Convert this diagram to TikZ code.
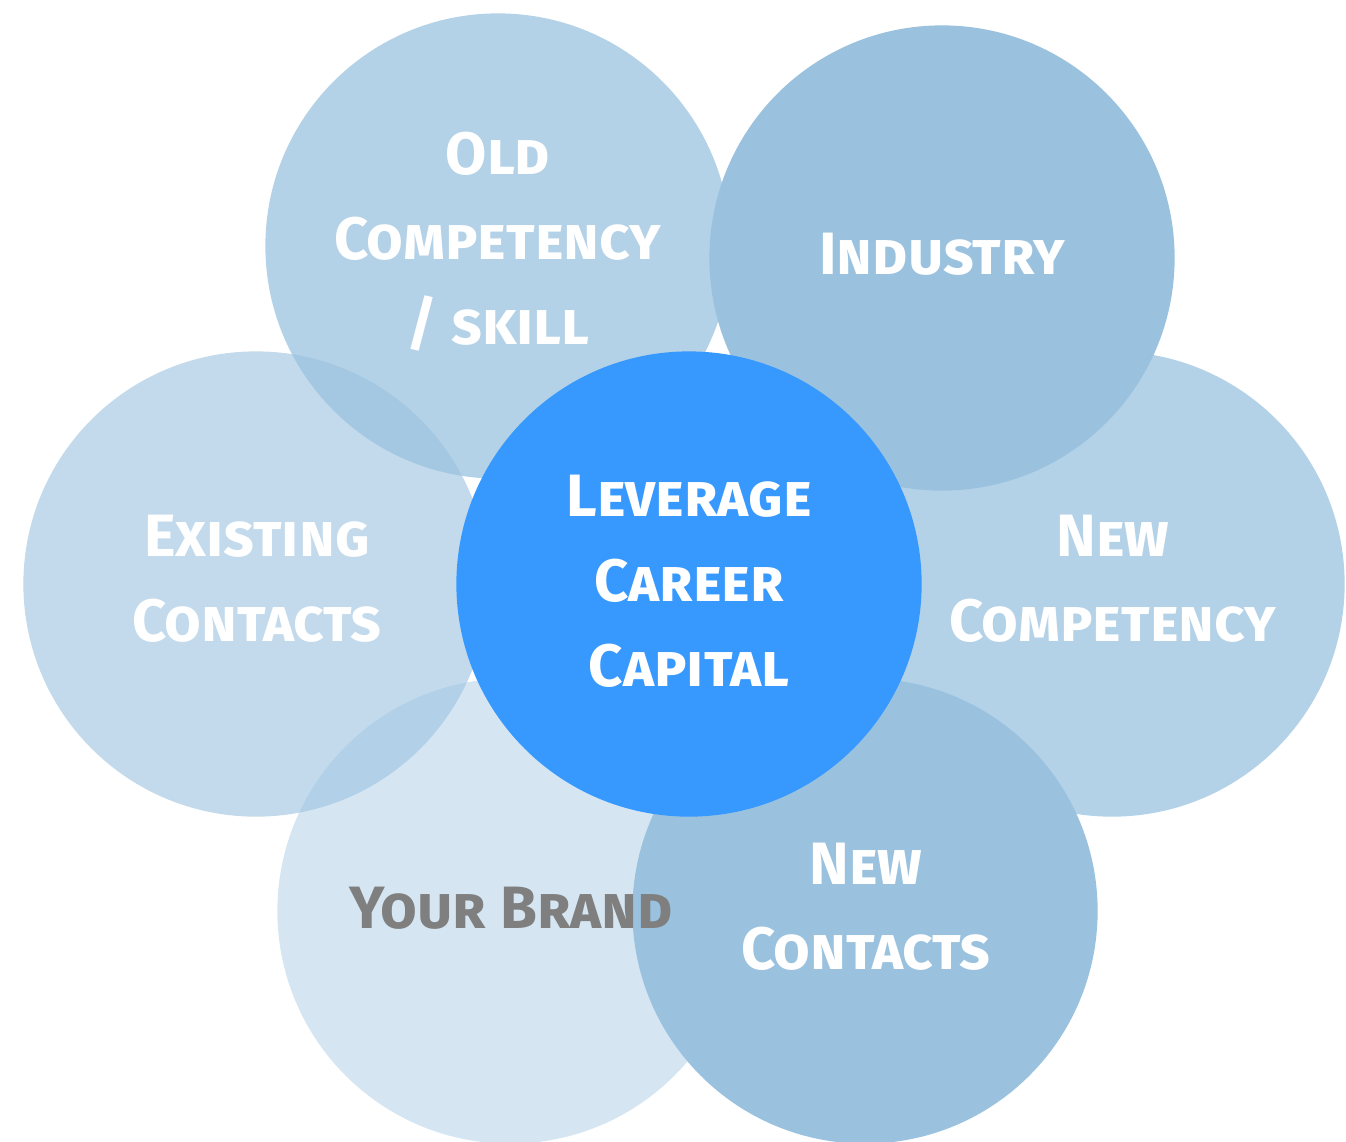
\documentclass[tikz,border=0pt]{standalone}
\usepackage{fontspec}
\setmainfont{Fira Sans}
\begin{document}
\begin{tikzpicture}[x=0.01cm,y=-0.01cm]
  \definecolor{petal}{HTML}{9AC2DF}
  \definecolor{core}{HTML}{3799FE}
  \definecolor{brandtext}{HTML}{7F7F7F}
  \tikzset{
    petalshape/.style={circle,fill=petal,draw=none,minimum size=4.65cm,inner sep=0pt},
    coreshape/.style={circle,fill=core,draw=none,minimum size=4.65cm,inner sep=0pt},
    label/.style={text=white,align=center,
      font=\fontsize{17}{24.2}\selectfont\bfseries\scshape},
  }
  \useasboundingbox (0,0) rectangle (1346,1141);
  % outer circles, back to front
  \node[petalshape,fill opacity=0.75] (old) at (498,246) {};
  \node[petalshape,fill opacity=0.6] (exist) at (256,584) {};
  \node[petalshape,fill opacity=0.75] (newcomp) at (1112,584) {};
  \node[petalshape] (industry) at (942,258) {};
  \node[petalshape,fill opacity=0.41] (brand) at (510,911) {};
  \node[petalshape] (newcont) at (865,911) {};
  \node[coreshape] (core) at (689,584) {};
  % labels
  \node[label] (oldtxt) at (498,242) {Old\\Competency\\/ skill};
  \node[label] (indtxt) at (942,254) {Industry};
  \node[label] (exttxt) at (257,579) {Existing\\Contacts};
  \node[label] (nctxt) at (1113,579) {New\\Competency};
  \node[label,text=brandtext] (brtxt) at (511,908) {Your Brand};
  \node[label] (ncotxt) at (866,907) {New\\Contacts};
  \node[label] (coretxt) at (689,581) {Leverage\\Career\\Capital};
\end{tikzpicture}
\end{document}
